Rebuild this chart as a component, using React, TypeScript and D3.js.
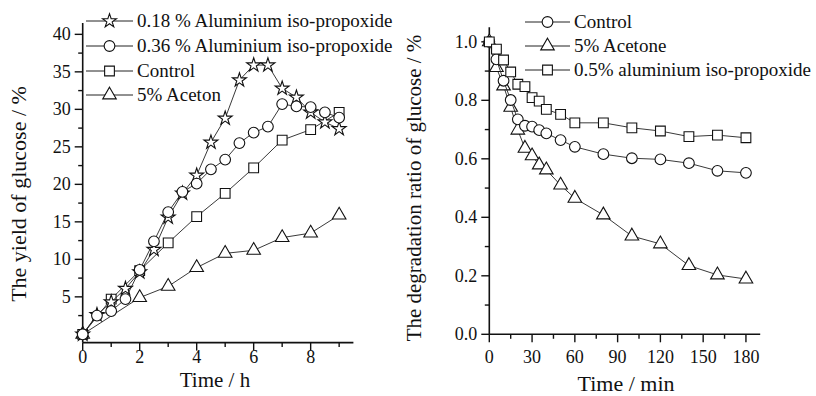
import React from "react";
import * as d3 from "d3";

// ---------- Left chart data (Time / h vs yield %) ----------
const starX = [0, 0.5, 1, 1.5, 2, 2.5, 3, 3.5, 4, 4.5, 5, 5.5, 6, 6.5, 7, 7.5, 8, 8.5, 9];
const starY = [0, 2.6, 4.3, 6.1, 8.3, 11.3, 15.6, 18.8, 21.2, 25.6, 28.8, 33.9, 35.9, 35.9, 32.8, 31.6, 29.6, 28.3, 27.4];
const circX = [0, 0.5, 1, 1.5, 2, 2.5, 3, 3.5, 4, 4.5, 5, 5.5, 6, 6.5, 7, 7.5, 8, 8.5, 9];
const circY = [0, 2.5, 3.1, 4.7, 8.6, 12.4, 16.3, 19.0, 20.1, 22.0, 23.3, 25.5, 26.9, 27.7, 30.7, 30.4, 30.3, 29.6, 28.9];
const ctrlX = [0, 1, 2, 3, 4, 5, 6, 7, 8, 9];
const ctrlY = [0, 4.7, 8.5, 12.2, 15.7, 18.8, 22.2, 25.9, 27.3, 29.6];
const acetX = [0, 2, 3, 4, 5, 6, 7, 8, 9];
const acetY = [0, 4.9, 6.4, 8.9, 10.8, 11.2, 12.9, 13.5, 15.9];
const leftLegend = [
  "0.18 % Aluminium iso-propoxide",
  "0.36 % Aluminium iso-propoxide",
  "Control",
  "5% Aceton",
];
const leftXTicks = [0, 2, 4, 6, 8];
const leftXMinor = [1, 3, 5, 7, 9];
const leftYTicks = [5, 10, 15, 20, 25, 30, 35, 40];
const leftYMinor = [2.5, 7.5, 12.5, 17.5, 22.5, 27.5, 32.5, 37.5];

// ---------- Right chart data (Time / min vs degradation ratio) ----------
const minX = [0, 5, 10, 15, 20, 25, 30, 35, 40, 50, 60, 80, 100, 120, 140, 160, 180];
const rCtrlY = [1.0, 0.94, 0.867, 0.801, 0.735, 0.713, 0.71, 0.698, 0.687, 0.664, 0.641, 0.616, 0.602, 0.598, 0.585, 0.559, 0.552];
const rAcetY = [1.0, 0.912, 0.849, 0.776, 0.698, 0.636, 0.61, 0.579, 0.562, 0.51, 0.465, 0.408, 0.336, 0.309, 0.235, 0.203, 0.189];
const rAlY = [1.0, 0.975, 0.938, 0.897, 0.855, 0.847, 0.809, 0.797, 0.769, 0.752, 0.723, 0.723, 0.706, 0.695, 0.676, 0.681, 0.672];
const rightLegend = ["Control", "5% Acetone", "0.5% aluminium iso-propoxide"];
const rightXTicks = [0, 30, 60, 90, 120, 150, 180];
const rightXMinor = [15, 45, 75, 105, 135, 165];
const rightYTicks = [0, 0.2, 0.4, 0.6, 0.8, 1.0];
const rightYMinor = [0.1, 0.3, 0.5, 0.7, 0.9];

const FONT = "'Liberation Serif', 'Times New Roman', Times, serif";

type Shape = "star" | "circle" | "square" | "triangle";
const symType: Record<Shape, d3.SymbolType> = {
  star: d3.symbolStar,
  circle: d3.symbolCircle,
  square: d3.symbolSquare,
  triangle: d3.symbolTriangle,
};
const symSize: Record<Shape, number> = { star: 60, circle: 90, square: 95, triangle: 80 };

function Marker({ x, y, shape }: { x: number; y: number; shape: Shape }) {
  const p = d3.symbol().type(symType[shape]).size(symSize[shape])()!;
  return <path d={p} transform={`translate(${x},${y})`} fill="#fff" stroke="#111" strokeWidth={1.1} />;
}

function Series({ xs, ys, sx, sy, shape }: { xs: number[]; ys: number[]; sx: any; sy: any; shape: Shape }) {
  const pts = xs.map((x, i) => [sx(x), sy(ys[i])] as [number, number]);
  const line = d3.line()(pts)!;
  return (
    <g>
      <path d={line} fill="none" stroke="#222" strokeWidth={0.9} />
      {pts.map((p, i) => (
        <Marker key={i} x={p[0]} y={p[1]} shape={shape} />
      ))}
    </g>
  );
}

function Axes({ sx, sy, xTicks, xMinor, yTicks, yMinor, fmtY, fmtX, xLabelDy }: any) {
  const [x0, x1] = sx.range();
  const [y0, y1] = sy.range();
  return (
    <g style={{ fontFamily: FONT }} fill="#111">
      <line x1={x0} x2={x1} y1={y0} y2={y0} stroke="#111" strokeWidth={1.6} />
      <line x1={x0} x2={x0} y1={y0} y2={y1} stroke="#111" strokeWidth={1.6} />
      {xTicks.map((t: number) => (
        <g key={"xt" + t}>
          <line x1={sx(t)} x2={sx(t)} y1={y0} y2={y0 + 8} stroke="#111" strokeWidth={1.4} />
          <text x={sx(t)} y={y0 + xLabelDy} textAnchor="middle" fontSize={18}>
            {fmtX(t)}
          </text>
        </g>
      ))}
      {xMinor.map((t: number) => (
        <line key={"xm" + t} x1={sx(t)} x2={sx(t)} y1={y0} y2={y0 + 4.5} stroke="#111" strokeWidth={1.4} />
      ))}
      {yTicks.map((t: number) => (
        <g key={"yt" + t}>
          <line x1={x0} x2={x0 - 8} y1={sy(t)} y2={sy(t)} stroke="#111" strokeWidth={1.4} />
          <text x={x0 - 12} y={sy(t) + 6} textAnchor="end" fontSize={18}>
            {fmtY(t)}
          </text>
        </g>
      ))}
      {yMinor.map((t: number) => (
        <line key={"ym" + t} x1={x0} x2={x0 - 4.5} y1={sy(t)} y2={sy(t)} stroke="#111" strokeWidth={1.4} />
      ))}
    </g>
  );
}

function LegendRow({ x1, x2, y, shape, label }: { x1: number; x2: number; y: number; shape: Shape; label: string }) {
  return (
    <g>
      <line x1={x1} x2={x2} y1={y} y2={y} stroke="#222" strokeWidth={1} />
      <Marker x={(x1 + x2) / 2} y={y} shape={shape} />
      <text x={x2 + 4} y={y + 6} fontSize={19} style={{ fontFamily: FONT }} fill="#111">
        {label}
      </text>
    </g>
  );
}

export default function App() {
  // Left chart scales
  const lx = d3.scaleLinear().domain([0, 9.5]).range([82.7, 353.4]);
  const ly = d3.scaleLinear().domain([-1.1, 41.5]).range([342.6, 23.1]);
  // Right chart scales
  const rx = d3.scaleLinear().domain([0, 190]).range([489.3, 760.2]);
  const ry = d3.scaleLinear().domain([0, 1.05]).range([334.3, 27.2]);

  const leftShapes: Shape[] = ["star", "circle", "square", "triangle"];
  const leftRowsY = [21, 46, 71, 95];
  const rightShapes: Shape[] = ["circle", "triangle", "square"];
  const rightRowsY = [22, 46, 70];

  return (
    <svg
      width={816}
      height={396}
      style={{ position: "fixed", left: 0, top: 0, background: "#fff" }}
    >
      <rect width={816} height={396} fill="#fff" />
      {/* Left chart */}
      <Axes
        sx={lx}
        sy={ly}
        xTicks={leftXTicks}
        xMinor={leftXMinor}
        yTicks={leftYTicks}
        yMinor={leftYMinor}
        xLabelDy={20}
        fmtX={(t: number) => String(t)}
        fmtY={(t: number) => String(t)}
      />
      <Series xs={acetX} ys={acetY} sx={lx} sy={ly} shape="triangle" />
      <Series xs={ctrlX} ys={ctrlY} sx={lx} sy={ly} shape="square" />
      <Series xs={starX} ys={starY} sx={lx} sy={ly} shape="star" />
      <Series xs={circX} ys={circY} sx={lx} sy={ly} shape="circle" />
      {leftLegend.map((l, i) => (
        <LegendRow key={l} x1={86} x2={133} y={leftRowsY[i]} shape={leftShapes[i]} label={l} />
      ))}
      <text x={215} y={387} textAnchor="middle" fontSize={21} style={{ fontFamily: FONT }} fill="#111">
        Time / h
      </text>
      <text
        transform={`translate(26,194) rotate(-90)`}
        textAnchor="middle"
        fontSize={22}
        style={{ fontFamily: FONT }}
        fill="#111"
      >
        The yield of glucose / %
      </text>

      {/* Right chart */}
      <Axes
        sx={rx}
        sy={ry}
        xTicks={rightXTicks}
        xMinor={rightXMinor}
        yTicks={rightYTicks}
        yMinor={rightYMinor}
        xLabelDy={29}
        fmtX={(t: number) => String(t)}
        fmtY={(t: number) => t.toFixed(1)}
      />
      <Series xs={minX} ys={rAcetY} sx={rx} sy={ry} shape="triangle" />
      <Series xs={minX} ys={rCtrlY} sx={rx} sy={ry} shape="circle" />
      <Series xs={minX} ys={rAlY} sx={rx} sy={ry} shape="square" />
      {rightLegend.map((l, i) => (
        <LegendRow key={l} x1={525} x2={570} y={rightRowsY[i]} shape={rightShapes[i]} label={l} />
      ))}
      <text x={626} y={391} textAnchor="middle" fontSize={22} style={{ fontFamily: FONT }} fill="#111">
        Time / min
      </text>
      <text
        transform={`translate(421,188) rotate(-90)`}
        textAnchor="middle"
        fontSize={21}
        style={{ fontFamily: FONT }}
        fill="#111"
      >
        The degradation ratio of glucose / %
      </text>
    </svg>
  );
}
